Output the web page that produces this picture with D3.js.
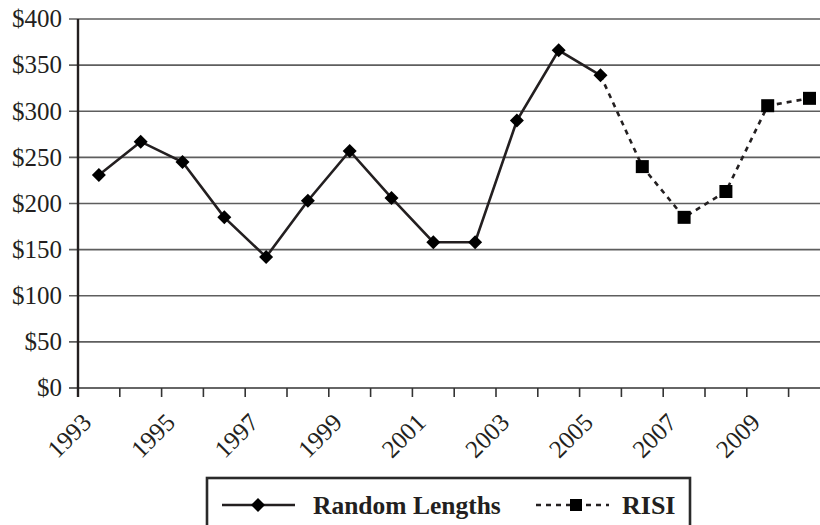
<!DOCTYPE html>
<html>
<head>
<meta charset="utf-8">
<script src="https://cdn.jsdelivr.net/npm/d3@7"></script>
<style>
  body { margin: 0; background: #fff; }
  svg text { font-family: "Liberation Serif", serif; fill: #231f20; }
</style>
</head>
<body>
<div id="chart"></div>
<script>
// data
var years = d3.range(1993, 2011);
var labelYears = [1993, 1995, 1997, 1999, 2001, 2003, 2005, 2007, 2009];
var yTicks = [0, 50, 100, 150, 200, 250, 300, 350, 400];

var randomLengthsYears = [1993, 1994, 1995, 1996, 1997, 1998, 1999, 2000, 2001, 2002, 2003, 2004, 2005];
var randomLengths = [231, 267, 245, 185, 142, 203, 257, 206, 158, 158, 290, 366, 339];

// RISI picks up from the last Random Lengths point
var risiYears = [2005, 2006, 2007, 2008, 2009, 2010];
var risi = [339, 240, 185, 213, 306, 314];

var width = 820, height = 525;
var plotLeft = 78, plotTop = 19, plotBottom = 388;
var step = 41.8;

var svg = d3.select("#chart").append("svg")
  .attr("width", width)
  .attr("height", height);

var x = d3.scaleBand()
  .domain(years)
  .range([plotLeft, plotLeft + step * years.length]);

var y = d3.scaleLinear()
  .domain([0, 400])
  .range([plotBottom, plotTop]);

var ink = "#231f20";

// gridlines (they run through the left ticks)
svg.append("g")
  .selectAll("line")
  .data(yTicks)
  .enter()
  .append("line")
  .attr("x1", plotLeft - 9)
  .attr("x2", width)
  .attr("y1", function(d) { return y(d); })
  .attr("y2", function(d) { return y(d); })
  .attr("stroke", function(d) { return d === 0 ? "#333" : "#5e5e5e"; })
  .attr("stroke-width", 1.7);

// y labels
svg.append("g")
  .selectAll("text")
  .data(yTicks)
  .enter()
  .append("text")
  .attr("x", plotLeft - 16)
  .attr("y", function(d) { return y(d); })
  .attr("dy", "0.33em")
  .attr("text-anchor", "end")
  .attr("font-size", 25)
  .text(function(d) { return "$" + d; });

// x ticks at category boundaries
svg.append("g")
  .selectAll("line")
  .data(years)
  .enter()
  .append("line")
  .attr("x1", function(d) { return x(d); })
  .attr("x2", function(d) { return x(d); })
  .attr("y1", plotBottom)
  .attr("y2", plotBottom + 9)
  .attr("stroke", "#333")
  .attr("stroke-width", 1.6);

// vertical axis line
svg.append("line")
  .attr("x1", plotLeft).attr("x2", plotLeft)
  .attr("y1", plotTop).attr("y2", plotBottom + 9)
  .attr("stroke", ink)
  .attr("stroke-width", 2.4);

// x labels, rotated
svg.append("g")
  .selectAll("text")
  .data(labelYears)
  .enter()
  .append("text")
  .attr("text-anchor", "end")
  .attr("font-size", 25)
  .attr("transform", function(d) {
    return "translate(" + (x(d) + x.bandwidth() / 2 - 6) + "," + (plotBottom + 36) + ")rotate(-45)";
  })
  .text(function(d) { return d; });

// series lines
var line = d3.line()
  .x(function(d) { return x(d[0]) + x.bandwidth() / 2; })
  .y(function(d) { return y(d[1]); });

var rlData = d3.zip(randomLengthsYears, randomLengths);
var risiData = d3.zip(risiYears, risi);

svg.append("path")
  .datum(risiData)
  .attr("d", line)
  .attr("fill", "none")
  .attr("stroke", ink)
  .attr("stroke-width", 2.6)
  .attr("stroke-dasharray", "5,5");

svg.append("path")
  .datum(rlData)
  .attr("d", line)
  .attr("fill", "none")
  .attr("stroke", ink)
  .attr("stroke-width", 2.6);

var diamond = d3.symbol().type(d3.symbolSquare).size(98);

svg.append("g")
  .selectAll("path")
  .data(rlData)
  .enter()
  .append("path")
  .attr("d", diamond)
  .attr("fill", "#000")
  .attr("transform", function(d) {
    return "translate(" + (x(d[0]) + x.bandwidth() / 2) + "," + y(d[1]) + ")rotate(45)";
  });

svg.append("g")
  .selectAll("rect")
  .data(risiData.slice(1))
  .enter()
  .append("rect")
  .attr("x", function(d) { return x(d[0]) + x.bandwidth() / 2 - 6.5; })
  .attr("y", function(d) { return y(d[1]) - 6.5; })
  .attr("width", 13)
  .attr("height", 13)
  .attr("fill", "#000");

// legend
var legend = svg.append("g");
legend.append("rect")
  .attr("x", 207).attr("y", 478)
  .attr("width", 483).attr("height", 60)
  .attr("fill", "#fff")
  .attr("stroke", "#2a2a2a")
  .attr("stroke-width", 2.6);

legend.append("line")
  .attr("x1", 222).attr("x2", 295)
  .attr("y1", 505).attr("y2", 505)
  .attr("stroke", ink).attr("stroke-width", 2.4);
legend.append("path")
  .attr("d", diamond)
  .attr("fill", "#000")
  .attr("transform", "translate(258,505)rotate(45)");
legend.append("text")
  .attr("x", 313).attr("y", 514)
  .attr("font-size", 25.5)
  .attr("font-weight", "bold")
  .text("Random Lengths");

legend.append("line")
  .attr("x1", 536).attr("x2", 609)
  .attr("y1", 505).attr("y2", 505)
  .attr("stroke", ink).attr("stroke-width", 2.4)
  .attr("stroke-dasharray", "5,5");
legend.append("rect")
  .attr("x", 570).attr("y", 499)
  .attr("width", 12).attr("height", 12)
  .attr("fill", "#000");
legend.append("text")
  .attr("x", 622).attr("y", 514)
  .attr("font-size", 26)
  .attr("font-weight", "bold")
  .text("RISI");
</script>
</body>
</html>
